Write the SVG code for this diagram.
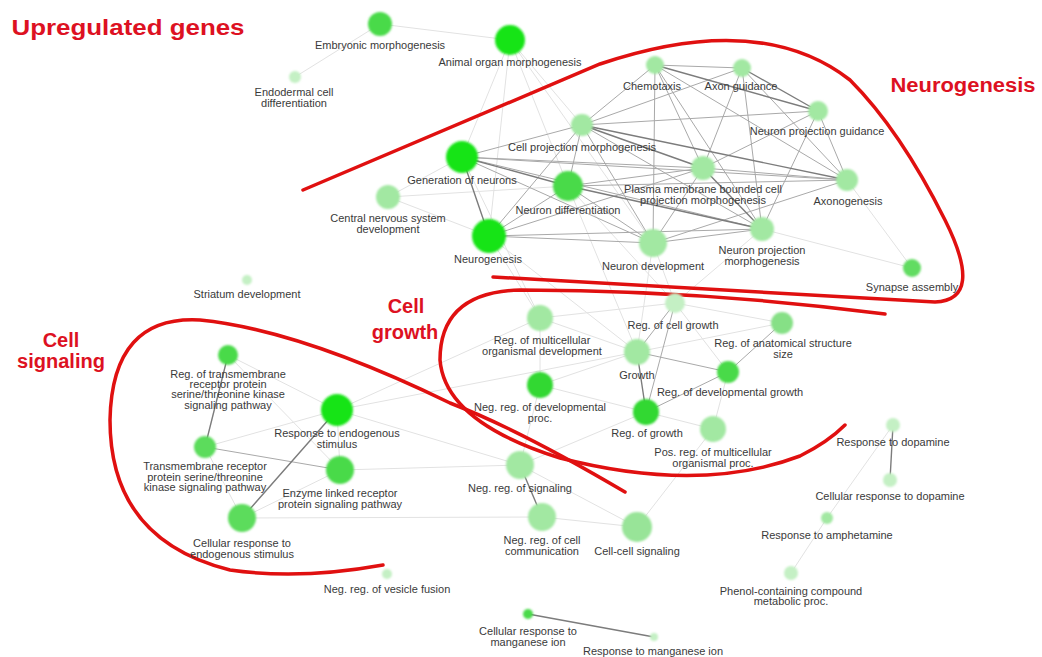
<svg xmlns="http://www.w3.org/2000/svg" width="1042" height="657" viewBox="0 0 1042 657">
<defs>
<filter id="soft" x="-30%" y="-30%" width="160%" height="160%"><feGaussianBlur stdDeviation="1.2"/></filter>
<style>
text{font-family:"Liberation Sans",Arial,sans-serif}
.lb{font-size:11px;fill:#3a3a3a;text-anchor:middle}
.ti{font-weight:bold;fill:#dd1122;text-anchor:middle}
.e1{stroke:#7c7c7c;stroke-width:1.4;fill:none}
.e2{stroke:#a9a9a9;stroke-width:1;fill:none}
.e3{stroke:#e2e2e2;stroke-width:1;fill:none}
.red{stroke:#e01010;stroke-width:3.5;fill:none;stroke-linecap:round}
.b{fill:#18e418}
.m{fill:#48da48}
.l{fill:#a2e8a2}
.v{fill:#c4f0c4}
</style>
</defs>
<rect width="1042" height="657" fill="#ffffff"/>
<g id="connectors">
<path class="e3" d="M380,24L510,40M380,24L295,77M510,40L582,125M510,40L568,186M510,40L489,236M510,40L462,157M510,40L653,243M388,197L462,157M388,197L489,236M388,197L568,186M489,236L540,318M653,243L637,352M653,243L675,303M762,229L675,303M568,186L637,352M462,157L540,318M762,229L912,268M847,180L912,268M540,318L637,352M540,318L540,385M540,385L637,352M540,385L646,412M646,412L713,429M728,372L713,429M675,303L782,323M675,303L728,372M637,352L782,323M540,318L675,303M205,447L337,410M228,355L337,410M228,355L340,470M340,470L242,518M205,447L242,518M337,410L340,470M337,410L520,465M337,410L637,352M337,410L540,318M340,470L520,465M542,517L637,527M520,465L637,527M637,527L713,429M520,465L540,385M520,465L646,412M242,518L542,517M489,236L637,352M568,186L675,303M893,425L827,518M827,518L791,573"/>
<path class="e2" d="M462,157L582,125M462,157L703,168M462,157L762,229M462,157L653,243M462,157L847,180M489,236L568,186M489,236L653,243M489,236L582,125M568,186L582,125M568,186L703,168M568,186L653,243M568,186L847,180M582,125L655,65M582,125L742,68M582,125L818,111M582,125L653,243M582,125L762,229M655,65L742,68M655,65L703,168M655,65L847,180M655,65L762,229M655,65L653,243M742,68L847,180M742,68L703,168M742,68L762,229M818,111L847,180M818,111L703,168M818,111L762,229M703,168L847,180M703,168L653,243M847,180L653,243M762,229L653,243M489,236L762,229M489,236L703,168M675,303L637,352M637,352L728,372M646,412L728,372M782,323L728,372M205,447L340,470M675,303L646,412"/>
<path class="e1" d="M462,157L489,236M462,157L568,186M582,125L703,168M582,125L847,180M568,186L762,229M742,68L818,111M703,168L762,229M655,65L818,111M637,352L646,412M228,355L205,447M337,410L242,518M520,465L542,517M528,614L654,637M893,425L890,480"/>
</g>
<g id="regions">
<path id="neurogenesis-outline" class="red" d="M303,190L600,64Q760,10 850,80Q900,130 945,220Q985,300 935,302L493,277"/>
<path id="cell-growth-outline" class="red" d="M885,314Q700,290 520,290Q440,292 440,360Q445,422 560,458Q700,494 800,456Q828,442 845,425"/>
<path id="cell-signaling-outline" class="red" d="M625,492Q520,430 450,403Q300,330 200,320Q112,315 110,420Q110,540 230,570Q300,580 383,565"/>
</g>
<g id="titles">
<text class="ti" x="128" y="35" font-size="22" textLength="233" lengthAdjust="spacingAndGlyphs">Upregulated genes</text>
<text class="ti" x="963" y="92" font-size="20" textLength="145" lengthAdjust="spacingAndGlyphs">Neurogenesis</text>
<text class="ti" x="406" y="313" font-size="20">Cell</text>
<text class="ti" x="405" y="339" font-size="20">growth</text>
<text class="ti" x="61" y="347" font-size="20">Cell</text>
<text class="ti" x="61" y="368" font-size="20">signaling</text>
</g>
<g id="nodes">
<g id="n-embryonic"><circle class="m" cx="380" cy="24" r="12" filter="url(#soft)"/><text class="lb" x="380" y="49">Embryonic morphogenesis</text></g>
<g id="n-animal-organ"><circle class="b" cx="510" cy="40" r="15" filter="url(#soft)"/><text class="lb" x="510" y="66">Animal organ morphogenesis</text></g>
<g id="n-endodermal"><circle class="v" cx="295" cy="77" r="6" filter="url(#soft)"/><text class="lb" x="294" y="96">Endodermal cell</text><text class="lb" x="294" y="107">differentiation</text></g>
<g id="n-chemotaxis"><circle class="l" cx="655" cy="65" r="9" filter="url(#soft)"/><text class="lb" x="652" y="90">Chemotaxis</text></g>
<g id="n-axon-guidance"><circle class="l" cx="742" cy="68" r="9" filter="url(#soft)"/><text class="lb" x="741" y="90">Axon guidance</text></g>
<g id="n-neuron-projection-guidance"><circle class="l" cx="818" cy="111" r="10" filter="url(#soft)"/><text class="lb" x="817" y="135">Neuron projection guidance</text></g>
<g id="n-cell-projection-morph"><circle class="l" cx="582" cy="125" r="11" filter="url(#soft)"/><text class="lb" x="582" y="151">Cell projection morphogenesis</text></g>
<g id="n-generation-of-neurons"><circle class="b" cx="462" cy="157" r="16" filter="url(#soft)"/><text class="lb" x="462" y="184">Generation of neurons</text></g>
<g id="n-neuron-differentiation"><circle class="m" cx="568" cy="186" r="15" filter="url(#soft)"/><text class="lb" x="568" y="214">Neuron differentiation</text></g>
<g id="n-plasma-membrane"><circle class="l" cx="703" cy="168" r="12" filter="url(#soft)"/><text class="lb" x="703" y="193">Plasma membrane bounded cell</text><text class="lb" x="703" y="204">projection morphogenesis</text></g>
<g id="n-axonogenesis"><circle class="l" cx="847" cy="180" r="11" filter="url(#soft)"/><text class="lb" x="848" y="205">Axonogenesis</text></g>
<g id="n-cns-development"><circle class="l" cx="388" cy="197" r="12" filter="url(#soft)"/><text class="lb" x="388" y="222">Central nervous system</text><text class="lb" x="388" y="233">development</text></g>
<g id="n-neurogenesis"><circle class="b" cx="489" cy="236" r="17" filter="url(#soft)"/><text class="lb" x="488" y="263">Neurogenesis</text></g>
<g id="n-neuron-development"><circle class="l" cx="653" cy="243" r="14" filter="url(#soft)"/><text class="lb" x="653" y="270">Neuron development</text></g>
<g id="n-neuron-projection-morph"><circle class="l" cx="762" cy="229" r="12" filter="url(#soft)"/><text class="lb" x="762" y="254">Neuron projection</text><text class="lb" x="762" y="265">morphogenesis</text></g>
<g id="n-synapse-assembly"><circle class="m" cx="912" cy="268" r="9" filter="url(#soft)" style="fill:#62dc62"/><text class="lb" x="912" y="291">Synapse assembly</text></g>
<g id="n-striatum"><circle class="v" cx="247" cy="280" r="5" filter="url(#soft)"/><text class="lb" x="247" y="298">Striatum development</text></g>
<g id="n-reg-multicellular-dev"><circle class="l" cx="540" cy="318" r="13" filter="url(#soft)"/><text class="lb" x="542" y="344">Reg. of multicellular</text><text class="lb" x="542" y="355">organismal development</text></g>
<g id="n-reg-cell-growth"><circle class="v" cx="675" cy="303" r="10" filter="url(#soft)"/><text class="lb" x="673" y="329">Reg. of cell growth</text></g>
<g id="n-reg-anatomical"><circle class="l" cx="782" cy="323" r="11" filter="url(#soft)" style="fill:#86e086"/><text class="lb" x="783" y="347">Reg. of anatomical structure</text><text class="lb" x="783" y="358">size</text></g>
<g id="n-growth"><circle class="l" cx="637" cy="352" r="13" filter="url(#soft)"/><text class="lb" x="637" y="379">Growth</text></g>
<g id="n-reg-developmental-growth"><circle class="m" cx="728" cy="372" r="11" filter="url(#soft)"/><text class="lb" x="730" y="396">Reg. of developmental growth</text></g>
<g id="n-neg-reg-developmental"><circle class="m" cx="540" cy="385" r="13" filter="url(#soft)" style="fill:#30d830"/><text class="lb" x="540" y="411">Neg. reg. of developmental</text><text class="lb" x="540" y="422">proc.</text></g>
<g id="n-reg-growth"><circle class="m" cx="646" cy="412" r="13" filter="url(#soft)" style="fill:#30d830"/><text class="lb" x="647" y="437">Reg. of growth</text></g>
<g id="n-pos-reg-multicellular"><circle class="l" cx="713" cy="429" r="13" filter="url(#soft)"/><text class="lb" x="713" y="456">Pos. reg. of multicellular</text><text class="lb" x="713" y="467">organismal proc.</text></g>
<g id="n-reg-transmembrane"><circle class="m" cx="228" cy="355" r="10" filter="url(#soft)"/><text class="lb" x="228" y="378">Reg. of transmembrane</text><text class="lb" x="228" y="388">receptor protein</text><text class="lb" x="228" y="398">serine/threonine kinase</text><text class="lb" x="228" y="409">signaling pathway</text></g>
<g id="n-response-endogenous"><circle class="b" cx="337" cy="410" r="16" filter="url(#soft)"/><text class="lb" x="337" y="437">Response to endogenous</text><text class="lb" x="337" y="448">stimulus</text></g>
<g id="n-transmembrane"><circle class="m" cx="205" cy="447" r="11" filter="url(#soft)" style="fill:#5cdc5c"/><text class="lb" x="205" y="470">Transmembrane receptor</text><text class="lb" x="205" y="481">protein serine/threonine</text><text class="lb" x="205" y="491">kinase signaling pathway</text></g>
<g id="n-enzyme-linked"><circle class="m" cx="340" cy="470" r="14" filter="url(#soft)"/><text class="lb" x="340" y="497">Enzyme linked receptor</text><text class="lb" x="340" y="508">protein signaling pathway</text></g>
<g id="n-cellular-response-endogenous"><circle class="m" cx="242" cy="518" r="14" filter="url(#soft)" style="fill:#5cdc5c"/><text class="lb" x="242" y="547">Cellular response to</text><text class="lb" x="242" y="558">endogenous stimulus</text></g>
<g id="n-neg-reg-signaling"><circle class="l" cx="520" cy="465" r="14" filter="url(#soft)"/><text class="lb" x="520" y="492">Neg. reg. of signaling</text></g>
<g id="n-neg-reg-cell-communication"><circle class="l" cx="542" cy="517" r="14" filter="url(#soft)"/><text class="lb" x="542" y="544">Neg. reg. of cell</text><text class="lb" x="542" y="555">communication</text></g>
<g id="n-cell-cell-signaling"><circle class="l" cx="637" cy="527" r="15" filter="url(#soft)" style="fill:#98e498"/><text class="lb" x="637" y="555">Cell-cell signaling</text></g>
<g id="n-neg-reg-vesicle-fusion"><circle class="v" cx="387" cy="574" r="5" filter="url(#soft)"/><text class="lb" x="387" y="593">Neg. reg. of vesicle fusion</text></g>
<g id="n-cellular-response-manganese"><circle class="m" cx="528" cy="614" r="5" filter="url(#soft)"/><text class="lb" x="528" y="635">Cellular response to</text><text class="lb" x="528" y="646">manganese ion</text></g>
<g id="n-response-manganese"><circle class="v" cx="654" cy="637" r="4" filter="url(#soft)"/><text class="lb" x="653" y="655">Response to manganese ion</text></g>
<g id="n-response-dopamine"><circle class="v" cx="893" cy="425" r="7" filter="url(#soft)"/><text class="lb" x="893" y="446">Response to dopamine</text></g>
<g id="n-cellular-response-dopamine"><circle class="v" cx="890" cy="480" r="7" filter="url(#soft)"/><text class="lb" x="890" y="500">Cellular response to dopamine</text></g>
<g id="n-response-amphetamine"><circle class="l" cx="827" cy="518" r="6" filter="url(#soft)"/><text class="lb" x="827" y="539">Response to amphetamine</text></g>
<g id="n-phenol"><circle class="v" cx="791" cy="573" r="7" filter="url(#soft)"/><text class="lb" x="791" y="595">Phenol-containing compound</text><text class="lb" x="791" y="605">metabolic proc.</text></g>
</g>
</svg>
